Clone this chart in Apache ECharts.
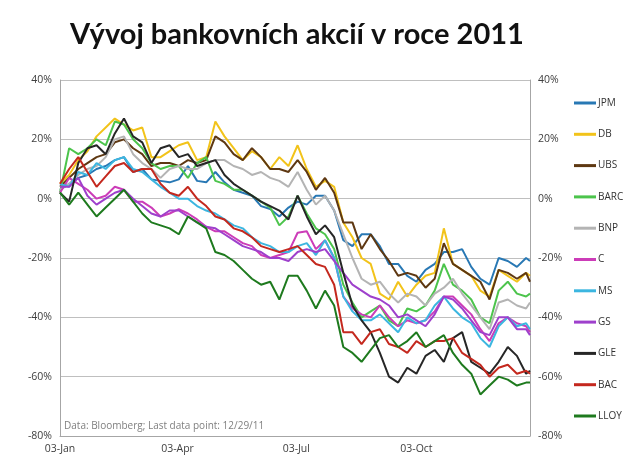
<!DOCTYPE html>
<html><head><meta charset="utf-8">
<script src="https://cdn.jsdelivr.net/npm/echarts@6/dist/echarts.min.js"></script>
<style>html,body{margin:0;padding:0;background:#fff}#c{width:626px;height:464px}</style>
</head><body><div id="c"></div>
<script>
// day offsets from 03-Jan-2011
var days = [0,7,14,21,28,35,42,49,56,63,70,77,84,91,98,105,112,119,126,133,140,147,154,161,168,175,182,189,196,203,210,217,224,231,238,245,252,259,266,273,280,287,294,301,308,315,322,329,336,343,350,357,360];
var tickDays = [0,90,181,273];
var tickLabels = ['03-Jan','03-Apr','03-Jul','03-Oct'];
var names = ['JPM','DB','UBS','BARC','BNP','C','MS','GS','GLE','BAC','LLOY'];
var colors = ['#2878b4','#f2c31a','#5e3812','#4cc44c','#b4b4b4','#cc3cb8','#3cb6e0','#9e40cc','#262626','#c4281e','#1e7a1e'];

var JPM = [3,5,7,8,10,11,13,14,9,10,6.5,6,5.5,6.5,11,6,5.5,9,5.5,3,2,1,-2.5,-3.5,-6,-3,-1,-2,1,1,-4,-14,-16,-12,-12,-16,-22,-22,-26,-28,-24,-22,-18,-18,-17,-23,-27,-29,-20,-21,-23,-20,-21];
var DB = [5,8,13,16,21,24,27,25,23,24,14,14,16,18,19,13,14,26,21,17,13,16,14,10,14,11,18,10,4,6,4,-8,-13,-20,-22,-32,-34,-28,-33,-29,-26,-25,-10,-22,-24,-26,-31,-33,-24,-26,-28,-25,-26];
var UBS = [4,7,10,12,14,15,19,20,17,15,11,12,12,11,13,12,13,21,19,15,13,17,14,10,10,9,13,9,3,7,2,-8,-8,-17,-12,-17,-21,-26,-25,-26,-30,-27,-15,-22,-24,-26,-28,-34,-24,-25,-27,-25,-28];
var BARC = [2,17,15,17,20,18,26,25,20,17,12,10,11,11,7,12,14,6,5,3,3,1,-1,-3,-9,-6,1,-5,-10,-12,-17,-29,-35,-40,-38,-36,-41,-43,-37,-38,-36,-31,-22,-29,-31,-34,-40,-42,-31,-28,-32,-33,-32];
var BNP = [3,5,8,10,11,14,20,21,15,12,10,7,10,11,10,10,12,13,13,11,10,8,9,7,6,4,9,3,-2,1,-4,-12,-20,-27,-29,-28,-32,-35,-32,-33,-36,-32,-30,-27,-32,-36,-40,-44,-35,-34,-36,-37,-35];
var C = [2,7,5,3,0,1,4,3,-1,-1,-3,-6,-5,-3.5,-5,-7,-9.5,-11,-11,-13,-15,-16,-19,-20,-19,-18,-11.5,-11,-17,-14,-20,-33,-37,-39,-40,-36,-40,-43,-41,-42,-41,-38,-33,-33,-36,-39,-44,-48,-42,-40,-42,-43,-45];
var MS = [5,4,9,8,12,10,13,14,10,9,6.5,4,2,0,0,-2.5,-4,-5,-7,-9,-10,-13,-15,-16,-18,-18,-16,-15,-19,-14,-20,-33,-38,-41,-41,-39,-42,-45,-40,-42,-41,-36,-33,-37,-40,-42,-47,-50,-43,-40,-43,-42,-44];
var GS = [4,4,7,1,-2,0,2,3,0,-2.5,-5,-6,-4,-4,-6,-8,-9.5,-10,-12,-14,-16,-17,-18,-20,-20,-21,-18,-17,-18,-17,-21,-25,-29,-31,-33,-34,-36,-40,-39,-41,-43,-39,-33,-34,-37,-41,-45,-46,-40,-40,-44,-44,-46];
var GLE = [2,-1,12,17,18,15,22,27,21,19,12,17,18,14,15,11,12,13,8,5,3,1,-1,-2.5,-4,-7,1,-6,-12,-9,-13,-25,-36,-41,-45,-52,-60,-62,-57,-59,-53,-51,-55,-47,-45,-55,-57,-59,-55,-50,-53,-59,-58];
var BAC = [5,10,14,9,4,7.5,11,12,9,10,10,5,2,1,4,0,-2.5,-6,-7,-10,-11,-13,-16,-17,-18,-17,-16,-19,-22,-23,-29,-45,-45,-49,-45,-44,-49,-50,-52,-48,-50,-48,-48,-47,-52,-54,-56,-60,-57,-56,-59,-58,-59];
var LLOY = [2,-2,2,-2,-6,-3,0,3,-1,-5,-8,-9,-10,-12,-6,-8,-10,-18,-19,-21,-24,-27,-29,-28,-34,-26,-26,-31,-37,-31,-36,-50,-52,-55,-51,-47,-46,-50,-48,-45,-50,-48,-46,-52,-56,-59,-66,-63,-60,-61,-63,-62,-62];

var seriesVals = [JPM,DB,UBS,BARC,BNP,C,MS,GS,GLE,BAC,LLOY];
var chart = echarts.init(document.getElementById('c'), null, {renderer:'canvas'});
var series = names.map(function(n,k){
  return {
    name:n, type:'line', yAxisIndex:0, symbol:'none', smooth:false,
    lineStyle:{width:2, color:colors[k]}, itemStyle:{color:colors[k]},
    data: days.map(function(d,i){return [d, seriesVals[k][i]];})
  };
});
var labelStyle = {formatter:'{value}%', color:'#404040', fontSize:10.5, fontFamily:'Open Sans', margin:8};
chart.setOption({
  animation:false,
  title:{text:'Vývoj bankovních akcií v roce 2011', left:292, textAlign:'center', top:15,
    textStyle:{fontFamily:'Lato', fontWeight:'bold', fontSize:29, color:'#111'}},
  grid:{left:60, right:96, top:80, bottom:28},
  xAxis:{type:'value', min:0, max:360,
    axisLine:{show:true, onZero:false, lineStyle:{color:'#a6a6a6'}},
    axisTick:{show:false},
    splitLine:{show:false},
    axisLabel:{customValues:tickDays, color:'#404040', fontSize:10.5, fontFamily:'Open Sans', margin:8,
      formatter:function(v){var i=tickDays.indexOf(v);return i>=0?tickLabels[i]:'';}}
  },
  yAxis:[
    {type:'value', min:-80, max:40, interval:20, position:'left',
      axisLine:{show:true, lineStyle:{color:'#a6a6a6'}}, axisTick:{show:false},
      splitLine:{show:true, lineStyle:{color:'#bfbfbf'}}, axisLabel:labelStyle},
    {type:'value', min:-80, max:40, interval:20, position:'right',
      axisLine:{show:true, lineStyle:{color:'#a6a6a6'}}, axisTick:{show:false},
      splitLine:{show:false}, axisLabel:labelStyle}
  ],
  legend:{orient:'vertical', left:574, top:98, padding:0, icon:'rect', itemWidth:22, itemHeight:3, itemGap:21.3,
    data:names, textStyle:{fontSize:10, color:'#333', fontFamily:'Open Sans', padding:[0,0,0,-3]}},
  graphic:[{type:'text', left:64, top:421, style:{text:'Data: Bloomberg; Last data point: 12/29/11', fill:'#7f7f7f', fontSize:10, fontFamily:'Open Sans'}}],
  series:series
});
</script></body></html>
